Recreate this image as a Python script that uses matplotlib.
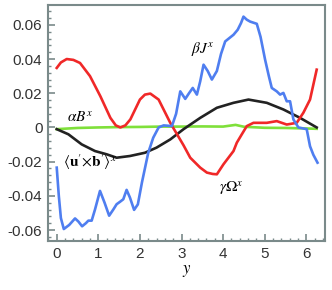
import numpy as np
import matplotlib
matplotlib.use("Agg")
import matplotlib.pyplot as plt
from matplotlib.ticker import MultipleLocator

plt.rcParams['mathtext.fontset'] = 'stix'
plt.rcParams['font.family'] = ['Liberation Sans', 'DejaVu Sans']

# beta J^x (blue)
xb = [0.0, 0.05, 0.1, 0.17, 0.3, 0.44, 0.52, 0.61, 0.7, 0.76, 0.84, 0.92, 1.04, 1.15, 1.26, 1.36, 1.44,
      1.52, 1.6, 1.68, 1.76, 1.86, 1.95, 2.05, 2.2, 2.32, 2.45, 2.57, 2.77, 2.87, 2.97, 3.09, 3.18,
      3.27, 3.37, 3.45, 3.53, 3.63, 3.73, 3.85, 3.95, 4.05, 4.25, 4.35, 4.43, 4.49, 4.57, 4.65,
      4.81, 4.9, 5.01, 5.1, 5.17, 5.29, 5.37, 5.45, 5.53, 5.61, 5.69, 5.81, 6.01, 6.09, 6.17, 6.27]
yb = [-0.0235, -0.04, -0.053, -0.0594, -0.057, -0.0532, -0.055, -0.0578, -0.056, -0.0545, -0.0545,
      -0.048, -0.0371, -0.044, -0.0516, -0.048, -0.0449, -0.0435, -0.042, -0.0365, -0.041, -0.0482,
      -0.045, -0.032, -0.0148, -0.006, 0.0, 0.0012, 0.0008, 0.008, 0.0211, 0.0167, 0.02, 0.0231,
      0.0192, 0.027, 0.0367, 0.033, 0.028, 0.033, 0.043, 0.0503, 0.0542, 0.0571, 0.061, 0.0648,
      0.063, 0.0619, 0.0606, 0.053, 0.0396, 0.03, 0.0231, 0.0211, 0.0192, 0.0202, 0.0153, 0.0153,
      0.0047, 0.0, -0.001, -0.011, -0.016, -0.0206]

# gamma Omega^x (red)
xr = [0.0, 0.1, 0.24, 0.4, 0.56, 0.8, 1.05, 1.29, 1.42, 1.53, 1.65, 1.77, 2.0, 2.12, 2.25, 2.45,
      2.73, 3.05, 3.21, 3.45, 3.61, 3.75, 3.85, 4.01, 4.25, 4.33, 4.45, 4.57, 4.73, 5.05, 5.29,
      5.53, 5.77, 5.93, 6.09, 6.25]
yr = [0.0348, 0.038, 0.040, 0.0395, 0.0377, 0.030, 0.0182, 0.0056, 0.0012, 0.0, 0.0012, 0.0047,
      0.0163, 0.0192, 0.0198, 0.0163, 0.0027, -0.0105, -0.0177, -0.0235, -0.0264, -0.0272, -0.0274,
      -0.0215, -0.0138, -0.0089, -0.004, 0.0008, 0.0027, 0.0027, 0.0037, 0.0017, 0.0027, 0.0086,
      0.0163, 0.0338]

# <u' x b'>^x (black)
xk = [0.0, 0.28, 0.6, 0.92, 1.2, 1.44, 1.76, 2.12, 2.4, 2.73, 3.05, 3.45, 3.85, 4.25, 4.61,
      5.05, 5.45, 5.85, 6.25]
yk = [-0.001, -0.004, -0.0099, -0.0138, -0.0157, -0.0177, -0.0167, -0.0148, -0.0118, -0.007,
      -0.001, 0.0056, 0.0115, 0.0144, 0.0163, 0.0144, 0.0105, 0.0056, 0.0]

# alpha B^x (green)
xg = [0.0, 0.5, 1.0, 1.5, 2.0, 2.5, 3.0, 3.5, 4.0, 4.3, 4.5, 5.0, 5.5, 6.0, 6.25]
yg = [-0.001, -0.0003, 0.0, 0.0002, 0.0003, 0.0005, 0.0005, 0.0006, 0.0005, 0.0015, 0.0004,
      -0.0002, -0.0003, -0.0006, -0.0008]

xticks = [0, 1, 2, 3, 4, 5, 6]
yticks = [-0.06, -0.04, -0.02, 0, 0.02, 0.04, 0.06]
ylabels = ['-0.06', '-0.04', '-0.02', '0', '0.02', '0.04', '0.06']

fig = plt.figure(figsize=(3.32, 2.9), dpi=100)
ax = fig.add_axes([48 / 332, 1 - 241 / 290, 277 / 332, 236 / 290])

lw = 1.9
ax.plot(xg, yg, color='#7fe03a', lw=lw)
ax.plot(xk, yk, color='#222222', lw=lw)
ax.plot(xr, yr, color='#f02828', lw=lw)
ax.plot(xb, yb, color='#4f7ef0', lw=lw)

ax.set_xlim(-0.21, 6.45)
ax.set_ylim(-0.0664, 0.0716)
ax.xaxis.set_minor_locator(MultipleLocator(0.2))
ax.yaxis.set_minor_locator(MultipleLocator(0.004))
ax.set_xticks(xticks)
ax.set_xticklabels([str(t) for t in xticks])
ax.set_yticks(yticks)
ax.set_yticklabels(ylabels)

fc = '#7a8a8a'
for s in ax.spines.values():
    s.set_color(fc)
    s.set_linewidth(1.5)
ax.tick_params(which='both', direction='in', color=fc, labelcolor='#333333',
               labelsize=11, top=False, right=False)
ax.tick_params(which='major', length=5, width=1.2, pad=4)
ax.tick_params(which='minor', length=2.5, width=1.0)

ax.set_xlabel(r'$y$', fontsize=12, labelpad=2)

ax.text(0.55, 0.006, r'$\alpha B^x$', fontsize=11, ha='center', va='center')
ax.text(3.5, 0.046, r'$\beta J^x$', fontsize=11, ha='center', va='center')
ax.text(0.8, -0.0205, r"$\langle \mathbf{u}'{\times}\mathbf{b}'\rangle^x$", fontsize=11,
        ha='center', va='center')
ax.text(4.2, -0.0355, r'$\gamma\mathit{\Omega}^x$', fontsize=11, ha='center', va='center')

fig.savefig('out.png', dpi=100)
